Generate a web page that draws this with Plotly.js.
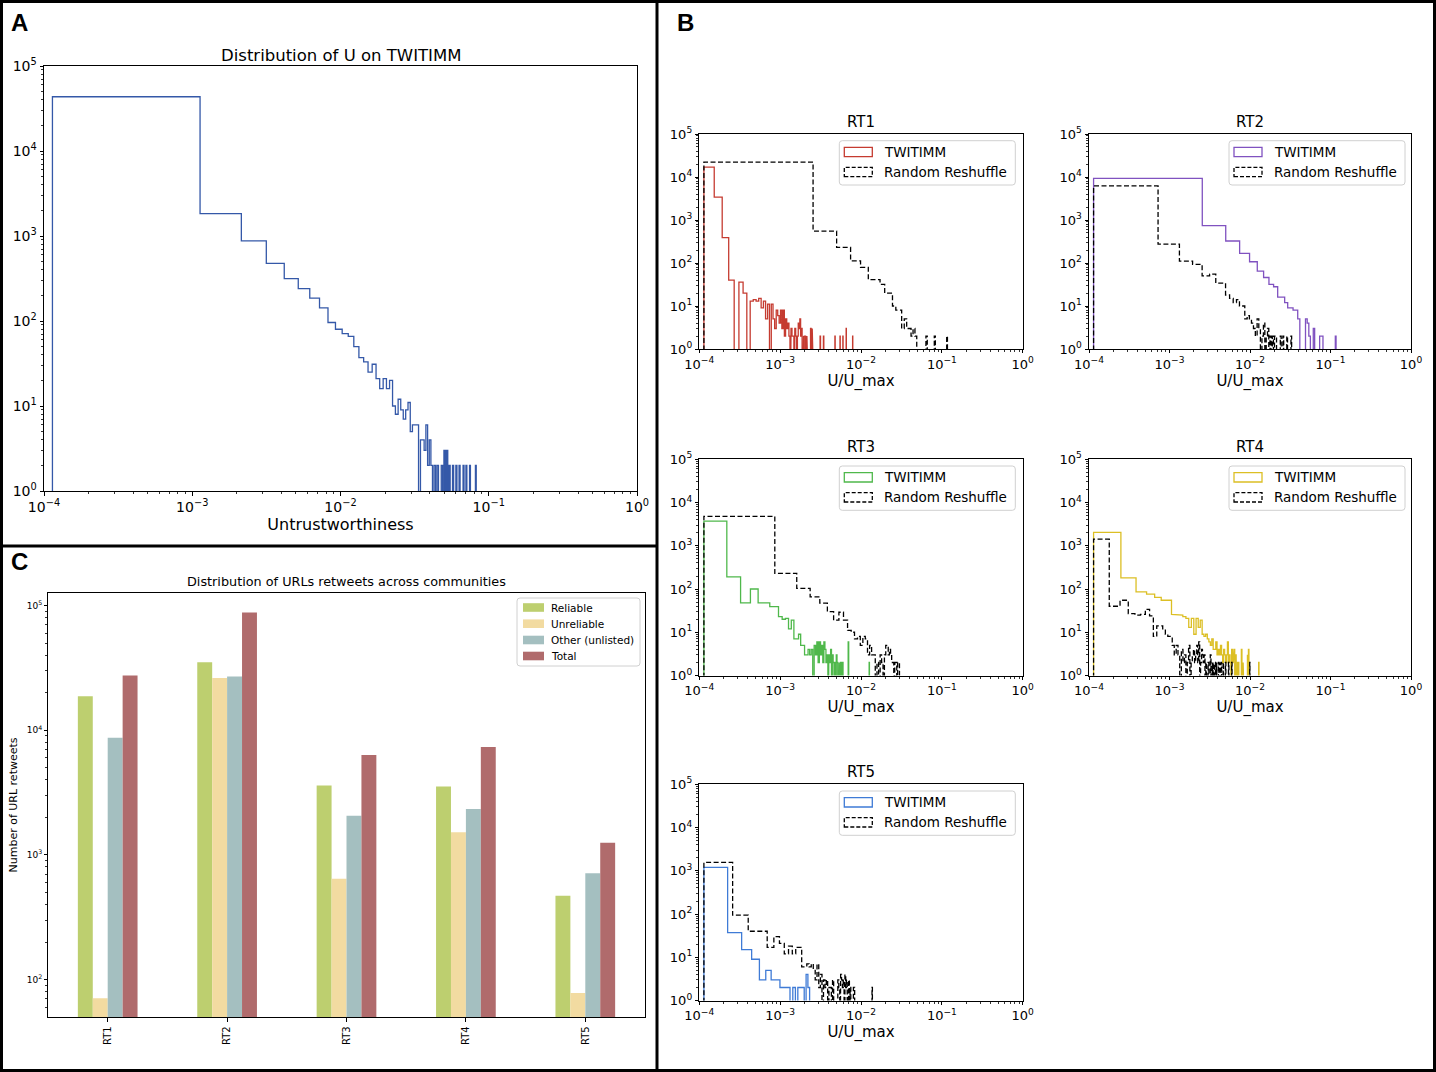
<!DOCTYPE html>
<html><head><meta charset="utf-8">
<script src="https://cdn.plot.ly/plotly-3.0.1.min.js"></script>
<style>html,body{margin:0;padding:0;background:#fff;}#chart{width:1436px;height:1072px;}</style>
</head><body><div id="chart"></div>
<script>
// ================= DATA =================
// Panel A: distribution of U on TWITIMM (linear bins, counts per bin)
const A_binStart = 1.14e-4, A_binWidth = 1.015e-3;
const A_counts = [43500,1830,874,477,315,240,186,143,96,80,
  71,66,50,37,33,25,31,21,16,21,
  16,20,10,8,12,9,7,9,11,5,
  6,6,6,0,4,4,3,6,2,4,
  2,0,2,0,2,0,0,2,0,3,
  0,3,0,2,0,0,2,0,0,2,
  0,0,2,0,0,0,2,0,0,2,
  0,0,0,2,0,0,0,0,0,0,2];

// Panel B: per-community histograms of U/U_max
const RT_names = ['RT1','RT2','RT3','RT4','RT5'];
const RT_binStart = 1.14e-4;
// TWITIMM bin widths and counts
const RT1_twitimm_width = 3.9e-5;
const RT1_twitimm = [17000,3400,390,40,0,36,20,0,13,14,
  13,15,9,13,5,11,0,11,5,3,
  8,6,4,8,3,8,2,5,3,4,
  2,0,3,2,2,0,3,2,0,2,
  4,3,5,2,3,0,2,0,2,2,
  0,2,0,0,0,0,0,0,3,0,
  3,0,0,0,0,0,0,0,0,0,
  0,0,0,0,0,0,0,2,0,0,
  0,0,0,0,0,2,0,0,0,0,
  0,0,0,0,0,0,0,0,0,0,
  0,0,0,0,0,0,0,0,0,0,
  0,0,0,0,0,0,0,0,0,2,
  0,0,0,0,0,0,0,0,0,0,
  0,0,0,0,0,0,0,0,2,0,
  0,0,0,0,0,0,0,0,0,0,
  2,0,0,0,0,0,0,0,0,0,
  0,0,0,0,0,3,0,0,0,0,
  0,0,0,0,0,0,0,0,0,0,
  0,0,0,0,0,0,0,0,0,0,
  0,0,0,0,0,0,0,0,0,2];
const RT2_twitimm_width = 2.44e-3;
const RT2_twitimm = [9300,740,325,168,107,65,46,32,28,16,
  16,12,9,9,8,8,5,0,0,0,
  5,4,2,0,0,3,0,0,0,0,
  2,2,2,0,0,0,0,0,0,0,
  0,0,0,0,0,0,0,2];
const RT3_twitimm_width = 1.05e-4;
const RT3_twitimm = [3700,190,48,100,48,48,39,39,23,20,
  21,12,19,7,7,9,5,5,3,3,
  4,3,4,0,5,3,6,2,6,3,
  5,2,6,4,2,3,0,3,2,4,
  0,3,2,0,2,0,3,2,0,2,
  0,0,2,0,0,2,0,0,0,0,
  0,0,0,0,0,6,0,0,0,0,
  0,0,0,0,0,0,0,0,0,0,
  0,0,0,0,0,0,0,0,0,0,
  0,0,0,0,0,0,0,0,0,0,
  0,0,0,0,0,0,0,0,0,0,
  0,0,0,0,0,0,0,0,0,2];
const RT4_twitimm_width = 1.35e-4;
const RT4_twitimm = [2040,181,86,76,64,55,55,26,26,25,
  23,21,13,21,9,21,13,19,9,8,
  9,7,6,5,7,4,4,6,3,4,
  3,5,3,2,4,3,2,3,6,2,
  3,2,0,4,2,3,4,0,3,2,
  0,2,2,0,0,0,0,4,0,2,
  0,0,0,0,0,0,0,0,3,0,
  4,0,0,0,0,0,0,0,0,0,
  0,0,0,0,0,0,0,0,0,0,
  0,0,0,0,2];
const RT5_twitimm_width = 1.1e-4;
const RT5_twitimm = [1200,37,15,9,3,5,3,3,2,2,
  2,0,2,0,2,2,2,0,4,2];

// Random Reshuffle bin widths and counts
const RT1_reshuffle_width = 2.44e-3;
const RT1_reshuffle = [22200,550,230,112,79,41,41,32,20,20,
  10,8,8,3,5,3,3,2,3,2,
  0,0,0,0,0,0,2,0,0,0,
  0,0,0,2,0,0,0,0,0,0,
  0,0,0,0,0,0,0,2];
const RT2_reshuffle_width = 6.07e-4;
const RT2_reshuffle = [6200,276,111,93,50,55,34,34,18,15,
  12,14,10,10,5,6,5,4,3,2,
  5,3,0,2,4,0,2,3,0,2,
  0,2,0,2,2,0,0,0,0,2,
  0,0,2,0,0,0,0,2,0,0,
  0,0,0,2];
const RT3_reshuffle_width = 7.45e-4;
const RT3_reshuffle = [4800,230,103,66,47,30,19,29,19,11,
  10,7,8,5,8,7,3,5,3,3,
  0,2,0,3,2,0,3,5,5,3,
  4,3,2,2,0,2,2,0,2,2];
const RT4_reshuffle_width = 6.45e-5;
const RT4_reshuffle = [1420,40,55,27,25,26,34,24,8,14,
  14,12,9,8,8,5,3,5,3,0,
  4,2,3,0,2,5,0,2,3,4,
  2,3,5,2,6,0,2,4,3,2,
  3,0,2,0,0,2,0,0,3,0,
  2,0,2,0,0,2,0,2,0,0,
  0,2,0,2,0,0,2,0,0,0,
  2,0,0,0,0,2,0,0,0,0,
  0,0,2,0,0,0,0,0,0,0,
  2,0,0,0,0,0,0,0,0,0,
  0,0,0,0,0,0,0,0,0,0,
  0,0,0,0,0,0,0,0,0,0,
  0,0,0,0,0,0,0,0,0,0,
  0,0,0,0,0,0,0,0,0,0,
  0,0,0,0,0,0,0,0,0,0,
  0,0,2];
const RT5_reshuffle_width = 1.444e-4;
const RT5_reshuffle = [1560,94,40,40,17,30,21,12,18,12,
  17,17,6,6,7,6,7,5,3,7,
  2,4,0,3,2,3,0,2,2,0,
  3,0,0,0,0,3,2,0,4,3,
  2,3,0,4,2,3,0,2,3,0,
  2,0,0,0,0,2,2,0,0,0,
  0,0,0,0,0,0,0,0,0,0,
  0,0,0,0,0,0,0,0,0,0,
  0,0,0,0,0,0,0,0,0,0,
  0,0,0,0,2];

// Panel C: URL retweets per community
const C_categories = ['RT1','RT2','RT3','RT4','RT5'];
const C_reliable   = [18700, 35100, 3600, 3540, 471];
const C_unreliable = [71, 26200, 644, 1517, 78];
const C_other      = [8700, 27000, 2060, 2335, 711];
const C_total      = [27500, 87900, 6310, 7330, 1253];
const C_seriesNames = ['Reliable','Unreliable','Other (unlisted)','Total'];

// Tick labels
const uTickVals = [1e-4, 1e-3, 1e-2, 1e-1, 1];
const uTickText = ['10<sup>−4</sup>','10<sup>−3</sup>','10<sup>−2</sup>','10<sup>−1</sup>','10<sup>0</sup>'];
const countTickVals = [1, 10, 100, 1000, 10000, 100000];
const countTickText = ['10<sup>0</sup>','10<sup>1</sup>','10<sup>2</sup>','10<sup>3</sup>','10<sup>4</sup>','10<sup>5</sup>'];
const barTickVals = [100, 1000, 10000, 100000];
const barTickText = ['10<sup>2</sup>','10<sup>3</sup>','10<sup>4</sup>','10<sup>5</sup>'];

// ================= STYLE / LAYOUT =================
const W = 1436, H = 1072;
const FONT = 'DejaVu Sans, sans-serif';
const X = p => p / W, Y = p => 1 - p / H;
const RT_colors = ['#c53b30', '#8052c0', '#4fb84b', '#dcbf24', '#3f7bd6'];
const A_color = '#3458a8';
const barColors = ['#bdcf6f', '#f2dba1', '#a4bfc0', '#b06b6c'];

const boxA = {L:44, R:637, T:66, B:491};
const boxC = {L:48, R:645, T:593, B:1017};
const boxRT = [
  {L:699.3, R:1022.7, T:134, B:349},
  {L:1089, R:1411, T:134, B:349},
  {L:699.3, R:1022.7, T:459.3, B:675.5},
  {L:1089, R:1411, T:459.3, B:675.5},
  {L:699.3, R:1022.7, T:784.3, B:1000.5}];

function minorLog(lo, hi) {
  const v = [];
  for (let e = lo; e < hi; e++) for (let m = 2; m <= 9; m++) v.push(m * Math.pow(10, e));
  return v;
}

function stepXY(start, width, counts) {
  const floor = 1e-3;
  const x = [start], y = [floor];
  for (let k = 0; k < counts.length; k++) {
    const c = counts[k] > 0 ? counts[k] : floor;
    x.push(start + k * width, start + (k + 1) * width);
    y.push(c, c);
  }
  x.push(start + counts.length * width); y.push(floor);
  return {x, y};
}

function logAxis(domain, anchor, range, tv, tt, minor, fs, title, standoff, tl) {
  const ax = {
    type:'log', range, domain, anchor, showline:true, mirror:true, linecolor:'black', linewidth:1,
    ticks:'outside', ticklen:tl, tickwidth:1, tickcolor:'black', tickmode:'array', tickvals:tv, ticktext:tt,
    tickfont:{family:FONT, size:fs, color:'black'}, showgrid:false, zeroline:false,
    minor:{tickmode:'array', tickvals:minor, ticks:'outside', ticklen:2.2, tickwidth:0.8, tickcolor:'black', showgrid:false},
    fixedrange:true
  };
  if (title) ax.title = {text:title.text, font:{family:FONT, size:title.size, color:'black'}, standoff};
  return ax;
}

const data = [];
const layout = {
  width:W, height:H, margin:{l:0, r:0, t:0, b:0}, paper_bgcolor:'white', plot_bgcolor:'white',
  showlegend:false, hovermode:false, font:{family:FONT, color:'black'},
  barmode:'group', bargap:0.5, bargroupgap:0,
  annotations:[], shapes:[]
};

// ---- Panel A ----
const aStep = stepXY(A_binStart, A_binWidth, A_counts);
data.push({type:'scatter', mode:'lines', x:aStep.x, y:aStep.y, xaxis:'x', yaxis:'y',
  line:{color:A_color, width:1.3}, hoverinfo:'skip'});
layout.xaxis = logAxis([X(boxA.L), X(boxA.R)], 'y', [-4, 0], uTickVals, uTickText, minorLog(-4, 0), 14,
  {text:'Untrustworthiness', size:16}, 0, 3.5);
layout.yaxis = logAxis([Y(boxA.B), Y(boxA.T)], 'x', [0, 5], countTickVals, countTickText, minorLog(0, 5), 14, null, 0, 3.5);

// ---- Panel C ----
[C_reliable, C_unreliable, C_other, C_total].forEach((vals, i) => {
  data.push({type:'bar', x:C_categories, y:vals, name:C_seriesNames[i], xaxis:'x2', yaxis:'y2',
    marker:{color:barColors[i], line:{width:0}}, hoverinfo:'skip'});
});
layout.xaxis2 = {type:'category', domain:[X(boxC.L), X(boxC.R)], anchor:'y2', range:[-0.5, 4.5],
  showline:true, mirror:true, linecolor:'black', linewidth:1.3, ticks:'outside', ticklen:4, tickcolor:'black',
  tickangle:-90, tickfont:{family:FONT, size:10, color:'black'}, showgrid:false, zeroline:false, fixedrange:true};
layout.yaxis2 = logAxis([Y(boxC.B), Y(boxC.T)], 'x2', [1.70, 5.10], barTickVals, barTickText, minorLog(1, 5), 9,
  {text:'Number of URL retweets', size:11}, 6, 3);
layout.yaxis2.minor.ticklen = 1.8;

// ---- Panel B (RT1..RT5) ----
const twSeries = [
  [RT1_twitimm_width, RT1_twitimm], [RT2_twitimm_width, RT2_twitimm], [RT3_twitimm_width, RT3_twitimm],
  [RT4_twitimm_width, RT4_twitimm], [RT5_twitimm_width, RT5_twitimm]];
const rrSeries = [
  [RT1_reshuffle_width, RT1_reshuffle], [RT2_reshuffle_width, RT2_reshuffle], [RT3_reshuffle_width, RT3_reshuffle],
  [RT4_reshuffle_width, RT4_reshuffle], [RT5_reshuffle_width, RT5_reshuffle]];

function rrectPath(x0, y0, x1, y1, r) {
  const P = (x, y) => X(x) + ',' + Y(y);
  return 'M' + P(x0 + r, y0) + ' L' + P(x1 - r, y0) + ' Q' + P(x1, y0) + ' ' + P(x1, y0 + r) +
    ' L' + P(x1, y1 - r) + ' Q' + P(x1, y1) + ' ' + P(x1 - r, y1) +
    ' L' + P(x0 + r, y1) + ' Q' + P(x0, y1) + ' ' + P(x0, y1 - r) +
    ' L' + P(x0, y0 + r) + ' Q' + P(x0, y0) + ' ' + P(x0 + r, y0) + ' Z';
}

RT_names.forEach((name, i) => {
  const b = boxRT[i];
  const xa = 'x' + (i + 3), ya = 'y' + (i + 3);
  const tw = stepXY(RT_binStart, twSeries[i][0], twSeries[i][1]);
  const rr = stepXY(RT_binStart, rrSeries[i][0], rrSeries[i][1]);
  data.push({type:'scatter', mode:'lines', x:tw.x, y:tw.y, xaxis:xa, yaxis:ya, name:'TWITIMM',
    line:{color:RT_colors[i], width:1.3}, hoverinfo:'skip'});
  data.push({type:'scatter', mode:'lines', x:rr.x, y:rr.y, xaxis:xa, yaxis:ya, name:'Random Reshuffle',
    line:{color:'black', width:1.3, dash:'5px,2.5px'}, hoverinfo:'skip'});
  layout['xaxis' + (i + 3)] = logAxis([X(b.L), X(b.R)], ya, [-4, 0], uTickVals, uTickText, minorLog(-4, 0), 13,
    {text:'U/U_max', size:15}, 4, 3);
  layout['yaxis' + (i + 3)] = logAxis([Y(b.B), Y(b.T)], xa, [0, 5], countTickVals, countTickText, minorLog(0, 5), 13, null, 0, 3.5);
  // subplot title
  layout.annotations.push({xref:'paper', yref:'paper', x:X((b.L + b.R) / 2), y:Y(b.T - 12), text:name,
    showarrow:false, xanchor:'center', yanchor:'middle', font:{family:FONT, size:15, color:'black'}});
  // legend box
  layout.shapes.push({type:'path', xref:'paper', yref:'paper', path:rrectPath(b.L + 140, b.T + 6.7, b.L + 316, b.T + 51, 3),
    line:{color:'#d0d0d0', width:1}, fillcolor:'rgba(255,255,255,0.85)'});
  layout.shapes.push({type:'rect', xref:'paper', yref:'paper', x0:X(b.L + 145), x1:X(b.L + 173), y0:Y(b.T + 22.7), y1:Y(b.T + 13.3),
    line:{color:RT_colors[i], width:1.3}, fillcolor:'rgba(0,0,0,0)'});
  layout.shapes.push({type:'rect', xref:'paper', yref:'paper', x0:X(b.L + 145), x1:X(b.L + 173), y0:Y(b.T + 42.7), y1:Y(b.T + 33.3),
    line:{color:'black', width:1.3, dash:'4px,2px'}, fillcolor:'rgba(0,0,0,0)'});
  layout.annotations.push({xref:'paper', yref:'paper', x:X(b.L + 183), y:Y(b.T + 18), text:'TWITIMM', showarrow:false,
    xanchor:'left', yanchor:'middle', font:{family:FONT, size:13.5, color:'black'}});
  layout.annotations.push({xref:'paper', yref:'paper', x:X(b.L + 183), y:Y(b.T + 38), text:'Random Reshuffle', showarrow:false,
    xanchor:'left', yanchor:'middle', font:{family:FONT, size:13.5, color:'black'}});
});

// ---- Panel C legend (drawn) ----
layout.shapes.push({type:'path', xref:'paper', yref:'paper', path:rrectPath(517, 598, 640, 666, 3),
  line:{color:'#d0d0d0', width:1}, fillcolor:'rgba(255,255,255,0.85)'});
const cLegY = [607.5, 623.7, 640, 656];
C_seriesNames.forEach((n, i) => {
  layout.shapes.push({type:'rect', xref:'paper', yref:'paper', x0:X(523), x1:X(544), y0:Y(cLegY[i] + 4.3), y1:Y(cLegY[i] - 4.3),
    line:{width:0}, fillcolor:barColors[i]});
  layout.annotations.push({xref:'paper', yref:'paper', x:X(549), y:Y(cLegY[i]), text:n, showarrow:false,
    xanchor:'left', yanchor:'middle', font:{family:FONT, size:10.5, color:'black'}});
});

// ---- Titles and panel letters ----
layout.annotations.push({xref:'paper', yref:'paper', x:X((boxA.L + boxA.R) / 2), y:Y(55), text:'Distribution of U on TWITIMM',
  showarrow:false, xanchor:'center', yanchor:'middle', font:{family:FONT, size:16.5, color:'black'}});
layout.annotations.push({xref:'paper', yref:'paper', x:X((boxC.L + boxC.R) / 2), y:Y(581), text:'Distribution of URLs retweets across communities',
  showarrow:false, xanchor:'center', yanchor:'middle', font:{family:FONT, size:12.8, color:'black'}});
[['A', 19, 22], ['B', 685, 22], ['C', 19, 561]].forEach(([t, x, y]) => {
  layout.annotations.push({xref:'paper', yref:'paper', x:X(x), y:Y(y), text:'<b>' + t + '</b>', showarrow:false,
    xanchor:'center', yanchor:'middle', font:{family:'Liberation Sans, Arial, sans-serif', size:24, color:'black'}});
});

// ---- Panel frames ----
layout.shapes.push({type:'rect', xref:'paper', yref:'paper', x0:X(1.5), x1:X(1434.5), y0:Y(1070.5), y1:Y(1.5),
  line:{color:'black', width:3}, fillcolor:'rgba(0,0,0,0)'});
layout.shapes.push({type:'line', xref:'paper', yref:'paper', x0:X(657), x1:X(657), y0:0, y1:1, line:{color:'black', width:3}});
layout.shapes.push({type:'line', xref:'paper', yref:'paper', x0:0, x1:X(657), y0:Y(546), y1:Y(546), line:{color:'black', width:3}});

Plotly.newPlot('chart', data, layout, {displayModeBar:false, staticPlot:true});
</script>
</body></html>
